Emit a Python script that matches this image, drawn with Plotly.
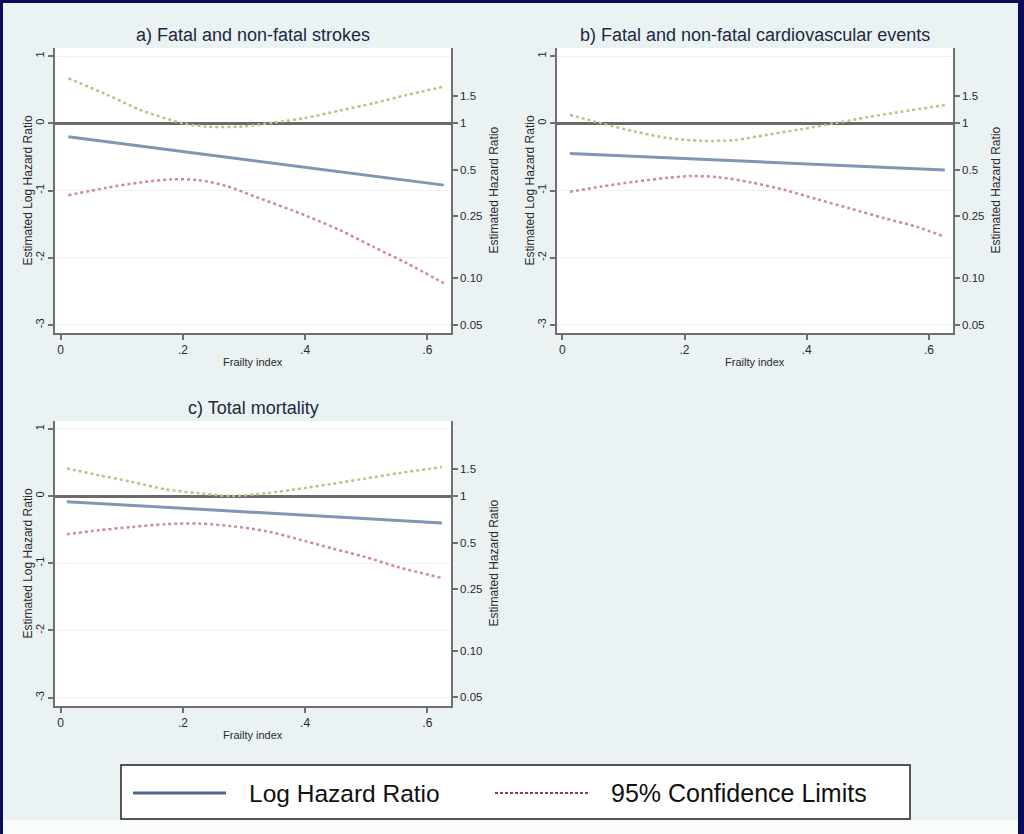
import numpy as np
import plotly.graph_objects as go

# ---------------- data ----------------
panel_titles = ["a) Fatal and non-fatal strokes",
                "b) Fatal and non-fatal cardiovascular events",
                "c) Total mortality"]

# panel a
a_lhr_x = [0.0125, 0.627]
a_lhr = [-0.20, -0.92]
a_ucl_x = [0.0125, 0.075, 0.13, 0.2, 0.239, 0.293, 0.348, 0.4, 0.457, 0.512, 0.566, 0.627]
a_ucl = [0.67, 0.43, 0.20, 0.0, -0.05, -0.05, 0.01, 0.08, 0.19, 0.30, 0.42, 0.545]
a_lcl_x = [0.0125, 0.075, 0.13, 0.18, 0.225, 0.27, 0.321, 0.4, 0.457, 0.512, 0.566, 0.627]
a_lcl = [-1.07, -0.96, -0.88, -0.835, -0.845, -0.93, -1.10, -1.37, -1.59, -1.84, -2.08, -2.38]

# panel b
b_lhr_x = [0.0125, 0.626]
b_lhr = [-0.45, -0.695]
b_ucl_x = [0.0125, 0.064, 0.118, 0.173, 0.227, 0.282, 0.336, 0.390, 0.445, 0.499, 0.553, 0.626]
b_ucl = [0.124, 0.0, -0.12, -0.22, -0.26, -0.25, -0.17, -0.09, 0.0, 0.09, 0.17, 0.27]
b_lcl_x = [0.0125, 0.064, 0.118, 0.173, 0.211, 0.254, 0.309, 0.363, 0.417, 0.472, 0.526, 0.580, 0.626]
b_lcl = [-1.02, -0.94, -0.87, -0.81, -0.785, -0.80, -0.88, -0.99, -1.13, -1.27, -1.41, -1.54, -1.69]

# panel c
c_lhr_x = [0.01, 0.624]
c_lhr = [-0.085, -0.40]
c_ucl_x = [0.01, 0.062, 0.117, 0.171, 0.226, 0.28, 0.335, 0.4, 0.444, 0.499, 0.553, 0.624]
c_ucl = [0.41, 0.31, 0.21, 0.10, 0.04, 0.0, 0.04, 0.12, 0.18, 0.26, 0.34, 0.43]
c_lcl_x = [0.01, 0.062, 0.117, 0.171, 0.226, 0.28, 0.335, 0.4, 0.444, 0.499, 0.553, 0.624]
c_lcl = [-0.57, -0.51, -0.46, -0.42, -0.41, -0.45, -0.52, -0.67, -0.78, -0.91, -1.06, -1.22]

x_tickvals = [0, 0.2, 0.4, 0.6]
x_ticktext = ["0", ".2", ".4", ".6"]
y_tickvals = [1, 0, -1, -2, -3]
y_ticktext = ["1", "0", "-1", "-2", "-3"]
hr_ticks = [1.5, 1.0, 0.5, 0.25, 0.10, 0.05]
hr_ticktext = ["1.5", "1", "0.5", "0.25", "0.10", "0.05"]

legend_labels = ["Log Hazard Ratio", "95% Confidence Limits"]

# ---------------- styling / geometry ----------------
W, H = 1024, 834
BG = "#eaf2f3"
NAVY = "#0b0b5c"
C_LHR = "#8296b4"
C_UCL = "#c4bd86"
C_LCL = "#d08a95"
AXC = "#707070"
TXT = "#2a2a2a"
TITLE_C = "#1e2840"
FONT = "Liberation Sans, Arial, sans-serif"

def px_x(p):
    return p / W

def px_y(p):
    return 1 - p / H

# plot areas in pixel coords (left, right, top, bottom)
panels = [
    (55, 451, 48, 333),
    (557, 953, 48, 333),
    (55, 451, 421, 706),
]
zero_px = [123.3, 123.3, 496.0]
px_per_unit_y = 67.2
x0_px = [60.7, 562.3, 60.7]
px_per_unit_x = 611.0

series = [
    (a_lhr_x, a_lhr, a_ucl_x, a_ucl, a_lcl_x, a_lcl),
    (b_lhr_x, b_lhr, b_ucl_x, b_ucl, b_lcl_x, b_lcl),
    (c_lhr_x, c_lhr, c_ucl_x, c_ucl, c_lcl_x, c_lcl),
]

fig = go.Figure()
layout = dict(
    width=W, height=H,
    margin=dict(l=0, r=0, t=0, b=0),
    paper_bgcolor=BG,
    plot_bgcolor="white",
    showlegend=False,
    template="none",
    font=dict(family=FONT, color=TXT),
)

annotations = []
shapes = []

for i, (L, R, T, B) in enumerate(panels):
    xn = "x" if i == 0 else f"x{i+1}"
    yl = 2 * i + 1
    yr = 2 * i + 2
    yln = "y" if yl == 1 else f"y{yl}"
    yrn = f"y{yr}"
    xkey = "xaxis" if i == 0 else f"xaxis{i+1}"
    ylkey = "yaxis" if yl == 1 else f"yaxis{yl}"
    yrkey = f"yaxis{yr}"

    yr_top = (zero_px[i] - T) / px_per_unit_y
    yr_bot = -(B - zero_px[i]) / px_per_unit_y
    xr_left = (L - x0_px[i]) / px_per_unit_x
    xr_right = (R - x0_px[i]) / px_per_unit_x

    layout[xkey] = dict(
        domain=[px_x(L), px_x(R)], anchor=yln, range=[xr_left, xr_right],
        tickvals=x_tickvals, ticktext=x_ticktext, ticks="outside", ticklen=5,
        tickwidth=1.5, tickcolor=AXC, showline=True, linecolor=AXC, linewidth=1.5,
        showgrid=False, zeroline=False, automargin=False,
        tickfont=dict(size=12, color=TXT, family=FONT),
    )
    layout[ylkey] = dict(
        domain=[px_y(B), px_y(T)], anchor=xn, range=[yr_bot, yr_top],
        tickvals=y_tickvals, ticktext=y_ticktext, tickangle=-90,
        ticks="outside", ticklen=5, tickwidth=1.5, tickcolor=AXC,
        showline=True, linecolor=AXC, linewidth=1.5,
        showgrid=True, gridcolor="#efefef", gridwidth=1,
        zeroline=True, zerolinecolor="#6a6a6a", zerolinewidth=2.5,
        automargin=False, tickfont=dict(size=11, color=TXT, family=FONT),
    )
    layout[yrkey] = dict(
        anchor=xn, overlaying=yln, side="right",
        range=[yr_bot, yr_top],
        tickvals=[float(v) for v in np.log(hr_ticks)], ticktext=hr_ticktext,
        ticks="outside", ticklen=5, tickwidth=1.5, tickcolor=AXC,
        showline=True, linecolor=AXC, linewidth=1.5, showgrid=False,
        zeroline=False, automargin=False,
        tickfont=dict(size=11.5, color=TXT, family=FONT),
    )

    lx, ly, ux, uy, lwx, lwy = series[i]
    fig.add_trace(go.Scatter(x=ux, y=uy, mode="lines", xaxis=xn, yaxis=yln,
                             line=dict(color=C_UCL, width=2.5, dash="dot", shape="spline",
                                       smoothing=0.8),
                             name=legend_labels[1]))
    fig.add_trace(go.Scatter(x=lwx, y=lwy, mode="lines", xaxis=xn, yaxis=yln,
                             line=dict(color=C_LCL, width=2.5, dash="dot", shape="spline",
                                       smoothing=0.8),
                             name=legend_labels[1]))
    fig.add_trace(go.Scatter(x=lx, y=ly, mode="lines", xaxis=xn, yaxis=yln,
                             line=dict(color=C_LHR, width=3),
                             name=legend_labels[0]))
    # hazard-ratio scale (right axis): same estimate on the log scale, invisible
    fig.add_trace(go.Scatter(x=lx, y=ly, mode="lines", xaxis=xn, yaxis=yrn,
                             line=dict(color="rgba(0,0,0,0)", width=0),
                             hoverinfo="skip", name="Hazard Ratio"))

    cx = (L + R) / 2
    mid_y = (T + B) / 2
    annotations.append(dict(text=panel_titles[i], x=px_x(cx), y=px_y(T - 13),
                            xref="paper", yref="paper", showarrow=False,
                            xanchor="center", yanchor="middle",
                            font=dict(size=18, color=TITLE_C, family=FONT)))
    annotations.append(dict(text="Estimated Log Hazard Ratio", x=px_x(L - 28), y=px_y(mid_y),
                            xref="paper", yref="paper", showarrow=False, textangle=-90,
                            xanchor="center", yanchor="middle",
                            font=dict(size=12, color=TXT, family=FONT)))
    annotations.append(dict(text="Estimated Hazard Ratio", x=px_x(R + 42), y=px_y(mid_y),
                            xref="paper", yref="paper", showarrow=False, textangle=-90,
                            xanchor="center", yanchor="middle",
                            font=dict(size=12, color=TXT, family=FONT)))
    annotations.append(dict(text="Frailty index", x=px_x(cx), y=px_y(B + 29),
                            xref="paper", yref="paper", showarrow=False,
                            xanchor="center", yanchor="middle",
                            font=dict(size=11, color=TXT, family=FONT)))

# bottom white strip below graph region
shapes.append(dict(type="rect", xref="paper", yref="paper", layer="below",
                   x0=0, x1=1, y0=0, y1=px_y(820), fillcolor="#fafbfb", line=dict(width=0)))

# legend box
shapes.append(dict(type="rect", xref="paper", yref="paper", layer="above",
                   x0=px_x(121), x1=px_x(910), y0=px_y(819), y1=px_y(765),
                   fillcolor="white", line=dict(color="#222222", width=1.5)))
shapes.append(dict(type="line", xref="paper", yref="paper", layer="above",
                   x0=px_x(133), x1=px_x(226), y0=px_y(793), y1=px_y(793),
                   line=dict(color="#4d6890", width=3)))
shapes.append(dict(type="line", xref="paper", yref="paper", layer="above",
                   x0=px_x(495), x1=px_x(590), y0=px_y(793), y1=px_y(793),
                   line=dict(color="#9c3a4c", width=2, dash="3px,2px")))
annotations.append(dict(text=legend_labels[0], x=px_x(247), y=px_y(793),
                        xref="paper", yref="paper", showarrow=False,
                        xanchor="left", yanchor="middle",
                        font=dict(size=24.5, color="#111111", family=FONT)))
annotations.append(dict(text=legend_labels[1], x=px_x(609), y=px_y(793),
                        xref="paper", yref="paper", showarrow=False,
                        xanchor="left", yanchor="middle",
                        font=dict(size=25, color="#111111", family=FONT)))

# navy frame
shapes.append(dict(type="rect", xref="paper", yref="paper", layer="above",
                   x0=0, x1=px_x(3), y0=0, y1=1, fillcolor=NAVY, line=dict(width=0)))
shapes.append(dict(type="rect", xref="paper", yref="paper", layer="above",
                   x0=0, x1=1, y0=px_y(3), y1=1, fillcolor=NAVY, line=dict(width=0)))
shapes.append(dict(type="rect", xref="paper", yref="paper", layer="above",
                   x0=px_x(1018), x1=1, y0=0, y1=1, fillcolor=NAVY, line=dict(width=0)))

layout["annotations"] = annotations
layout["shapes"] = shapes
fig.update_layout(**layout)

fig.write_html("out.html")
